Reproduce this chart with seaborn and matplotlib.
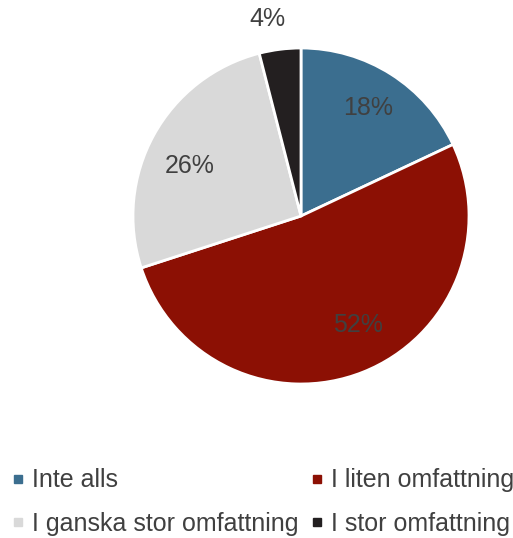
import matplotlib
matplotlib.use("Agg")
import matplotlib.pyplot as plt
import seaborn as sns
import numpy as np
from matplotlib.lines import Line2D

sns.set_theme(style="white")
plt.rcParams['font.family'] = ['Liberation Sans', 'DejaVu Sans']

categories = ["Inte alls", "I liten omfattning", "I ganska stor omfattning", "I stor omfattning"]
values = [18, 52, 26, 4]
colors = ["#3B6E8F", "#8C1004", "#D9D9D9", "#231F20"]
label_color = "#404040"
# label placement (x/y in pie-radius units) – style only
label_pos = [(0.40, 0.64), (0.34, -0.65), (-0.66, 0.30), (-0.20, 1.17)]

fig = plt.figure(figsize=(5.13, 5.38), dpi=100)
ax = fig.add_axes([133/513, (538-384)/538, 336/513, 336/538])

wedges, texts, autotexts = ax.pie(
    values, colors=colors, startangle=90, counterclock=False,
    autopct=lambda p: f"{p:.0f}%", pctdistance=0.75,
    wedgeprops=dict(edgecolor="white", linewidth=2),
    textprops=dict(color=label_color, fontsize=18),
)
for t, pos in zip(autotexts, label_pos):
    t.set_position(pos)

ax.set_xlim(-1, 1)
ax.set_ylim(-1, 1)
ax.set_aspect("equal")
ax.axis("off")

handles = [Line2D([0], [0], marker="s", linestyle="none", markersize=5.5,
                  markerfacecolor=c, markeredgecolor=c) for c in colors]
order = [0, 2, 1, 3]
fig.legend([handles[i] for i in order], [categories[i] for i in order],
           ncol=2, loc="center left",
           bbox_to_anchor=(10.5/513, 36/538), frameon=False,
           fontsize=18, labelcolor=label_color, handlelength=0.6,
           handletextpad=0.25, columnspacing=0.45, labelspacing=0.78,
           borderpad=0, borderaxespad=0)

fig.savefig("out.png", dpi=100, facecolor="white")
